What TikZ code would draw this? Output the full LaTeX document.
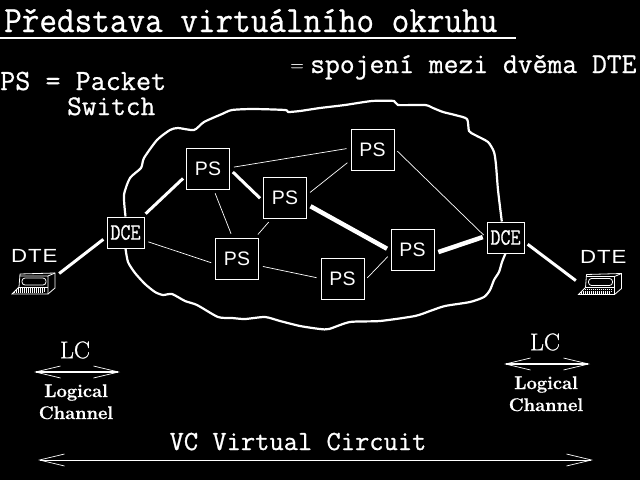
\documentclass[tikz,border=0pt]{standalone}
\usepackage{fontspec}
\usetikzlibrary{arrows.meta}
\newfontfamily\psfont{Liberation Sans}
\newfontfamily\dtefont[LetterSpace=4]{Liberation Sans}
\newfontfamily\boldtt[FakeBold=.8]{Latin Modern Mono}
\newfontfamily\boldrm[FakeBold=.8]{Latin Modern Roman}
\newcommand{\sized}[1]{\fontsize{#1}{#1}\selectfont}
\newcommand{\tall}[2]{\scalebox{1}[#1]{#2}}
\newcommand{\wide}[1]{\scalebox{1.17}[1]{#1}}
\tikzset{
  terminal/.pic={
    \draw[line width=.8pt] (8,-20) -- (43,-21) -- (43,-6) -- (36,0) -- (0,0) -- (7,-7) -- (8,-20);
    \draw[line width=.8pt] (8,-18) -- (36,-18) -- (36,0) (36,-18) -- (43,-21);
    \draw[line width=.8pt,rounded corners=3pt] (10,-16) rectangle (34,-9);
    \draw[line width=.8pt] (7,-7) -- (36,-7);
    \draw[line width=1.6pt,dash pattern=on 1pt off 1pt] (6,-5) -- (34,-5) (4,-3) -- (33,-3) (2,-1.5) -- (31,-1.5);
  }
}
\begin{document}
\begin{tikzpicture}[
    x=1pt,y=-1pt,
    color=white,
    every node/.style={inner sep=0pt,text=white},
    small/.style={font=\boldrm\bfseries\sized{18.3}},
    ps/.style={draw,line width=1pt,minimum width=43pt,minimum height=41pt,font=\psfont\sized{19.5}},
    dce/.style={draw,line width=1pt,minimum width=37pt,minimum height=31pt,font=\boldtt\bfseries\sized{19.5}},
    dte/.style={font=\dtefont\sized{19}},
    lc/.style={font=\boldrm\sized{24}},
    fat/.style={line width=3pt,shorten <=4pt,shorten >=4pt},
    fatter/.style={line width=4.5pt,shorten <=4pt,shorten >=4pt},
    slim/.style={line width=.7pt,shorten <=4pt,shorten >=4pt},
    cloud/.style={line width=2.2pt,line join=round},
    dbl/.style={{Straight Barb[length=25pt,width=12pt,line width=.7pt]}-{Straight Barb[length=25pt,width=12pt,line width=.7pt]}}
  ]
  \fill[black] (0,0) rectangle (640,480);
  \useasboundingbox (0,0) rectangle (640,480);

  % headings
  \node[font=\boldtt\sized{34.2},anchor=base west] (title) at (4,32) {\tall{1.08}{Představa virtuálního okruhu}};
  \coordinate (ula) at (0,38);
  \coordinate (ulb) at (516,38);
  \draw[line width=2.5pt] (ula) -- (ulb);
  \node[font=\boldtt\sized{29.3},anchor=base west] (pkt) at (0,90) {PS = Packet};
  \node[font=\boldtt\sized{28.5},anchor=base west] (swi) at (67,115) {Switch};
  \node[font=\boldrm\sized{18}] (eq) at (297,67.5) {=};
  \node[font=\boldtt\sized{28.8},anchor=base west] (conn) at (310,73) {spojení mezi dvěma DTE};

  % the network
  \node[dce] (dcea) at (125.5,232.5) {\tall{1.2}{DCE}};
  \node[dce] (dceb) at (505.5,237.5) {\tall{1.2}{DCE}};
  \node[ps] (psa) at (208,168.5) {PS};
  \node[ps] (psb) at (285,198) {PS};
  \node[ps] (psc) at (237,258.5) {PS};
  \node[ps] (psd) at (372.5,149.5) {PS};
  \node[ps] (pse) at (412.5,249.5) {PS};
  \node[ps] (psf) at (342.5,278.5) {PS};

  % terminals
  \node[dte,anchor=base west] (dtea) at (11,262) {\wide{DTE}};
  \node[dte,anchor=base west] (dteb) at (580,263) {\wide{DTE}};
  \pic at (12,294) {terminal};
  \pic at (578.5,294.5) {terminal};
  \coordinate (ta) at (56,276);
  \coordinate (tb) at (579,283);

  % the virtual circuit
  \draw[fat] (ta) -- (dcea.193.7);
  \draw[fat] (dcea.43.5) -- (psa.198);
  \draw[fat] (psa.-2) -- (psb.188.5);
  \draw[fatter] (psb.-16) -- (pse.183);
  \draw[fatter] (pse.-10) -- (dceb.175);
  \draw[fat] (dceb.-13) -- (tb);

  % other lines
  \draw[slim] (psa.2.5) -- (psd.176.5);
  \draw[slim] (psb.8.7) -- (psd.206.9);
  \draw[slim] (psa.-75.5) -- (psc.102.4);
  \draw[slim] (psb.237.6) -- (psc.49.7);
  \draw[slim] (dcea.-23.7) -- (psc.194.7);
  \draw[slim] (psc.-18.7) -- (psf.180);
  \draw[slim] (psf.-6.7) -- (pse.191.8);
  \draw[slim] (psd.3.7) -- (dceb.181);

  % cloud
  \draw[cloud] plot[smooth,tension=.4] coordinates {(dcea.north) (124,195) (130,178) (141,168)
    (144,158) (157,140) (170,130) (178,128) (194,130) (204,122) (222,114) (232,110) (253,109)
    (285,110) (288,112) (300,111) (320,108) (345,105) (372,101) (394,101) (398,105) (425,105)
    (433,108) (443,112) (455,115) (467,119) (469,131) (475,135) (488,142) (494,152) (496,165)
    (498,190) (dceb.103)};
  \draw[cloud] plot[smooth,tension=.4] coordinates {(dcea.south) (128,262) (135,273) (145,284)
    (155,292) (163,295) (172,294) (185,301) (197,305) (218,317) (232,318) (245,319) (265,317)
    (280,321) (300,326) (320,329) (329,329) (350,322) (380,321) (415,316) (430,311) (445,306)
    (470,302) (484,297) (490,290) (494,280) (499,272) (502,262) (dceb.south)};

  % logical channels
  \node[lc] (lca) at (75,350) {LC};
  \coordinate (lcal) at (34,372);
  \coordinate (lcar) at (120,372);
  \draw[dbl,line width=2pt] (lcal) -- (lcar);
  \node[small,anchor=base] (loga) at (76,397) {Logical};
  \node[small,anchor=base] (chaa) at (76,419) {Channel};

  \node[lc] (lcb) at (545,342) {LC};
  \coordinate (lcbl) at (504,364);
  \coordinate (lcbr) at (590,364);
  \draw[dbl,line width=2pt] (lcbl) -- (lcbr);
  \node[small,anchor=base] (logb) at (546,389) {Logical};
  \node[small,anchor=base] (chab) at (546,411) {Channel};

  \node[font=\boldtt\sized{27.7},anchor=base] (vc) at (298,450) {VC Virtual Circuit};
  \coordinate (vcl) at (38,460);
  \coordinate (vcr) at (593,460);
  \draw[dbl,line width=.8pt] (vcl) -- (vcr);
\end{tikzpicture}
\end{document}
